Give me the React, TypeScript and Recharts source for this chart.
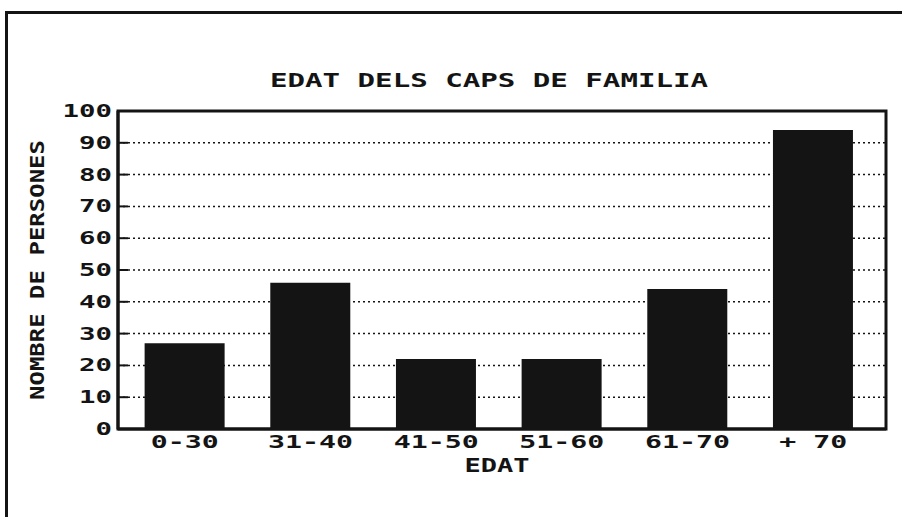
import { Bar, BarChart, CartesianGrid, XAxis, YAxis } from "recharts";

const categories = ["0-30", "31-40", "41-50", "51-60", "61-70", "+ 70"];
const persones = [27, 46, 22, 22, 44, 94];
const yTicks = [0, 10, 20, 30, 40, 50, 60, 70, 80, 90, 100];

const data = categories.map((edat, i) => ({ edat, persones: persones[i] }));

const FONT = "'DejaVu Sans Mono', monospace";
const INK = "#141414";

const YTick = ({ x, y, payload }: any) => {
	const label = String(payload.value);
	return (
		<g>
			<line x1={x + 6} x2={x + 16} y1={y} y2={y} stroke={INK} strokeWidth={2} />
			<text
				x={x}
				y={y}
				dy={6}
				textAnchor="end"
				fill={INK}
				fontFamily={FONT}
				fontWeight="bold"
				fontSize={18}
				textLength={label.length * 16.5}
				lengthAdjust="spacingAndGlyphs"
			>
				{label}
			</text>
		</g>
	);
};

const XTick = ({ x, y, payload }: any) => {
	const label = String(payload.value);
	return (
		<text
			x={x}
			y={y}
			dy={15}
			textAnchor="middle"
			fill={INK}
			fontFamily={FONT}
			fontWeight="bold"
			fontSize={18}
			textLength={label.length * 17}
			lengthAdjust="spacingAndGlyphs"
		>
			{label}
		</text>
	);
};

export default function App() {
	return (
		<div
			style={{
				position: "absolute",
				top: 0,
				left: 0,
				width: 902,
				height: 517,
				background: "#fff",
				overflow: "hidden",
			}}
		>
			<BarChart
				width={902}
				height={517}
				data={data}
				margin={{ top: 111, right: 16, left: 18, bottom: 58 }}
				barCategoryGap="18%"
				style={{ position: "absolute", top: 0, left: 0 }}
			>
				<CartesianGrid
					horizontal
					vertical={false}
					stroke={INK}
					strokeWidth={1.5}
					strokeDasharray="2 3"
				/>
				<XAxis
					dataKey="edat"
					height={30}
					padding={{ left: 4, right: 10 }}
					tickLine={false}
					tickSize={0}
					tickMargin={4}
					axisLine={{ stroke: INK, strokeWidth: 3 }}
					tick={<XTick />}
					interval={0}
				/>
				<YAxis
					width={100}
					domain={[0, 100]}
					ticks={yTicks}
					interval={0}
					tickLine={false}
					tickSize={0}
					tickMargin={6}
					axisLine={{ stroke: INK, strokeWidth: 3 }}
					tick={<YTick />}
				/>
				<Bar dataKey="persones" fill={INK} isAnimationActive={false} />
			</BarChart>
			<svg
				width={902}
				height={517}
				style={{ position: "absolute", top: 0, left: 0, pointerEvents: "none" }}
			>
				<path d="M6.5 560 V12.5 H902" fill="none" stroke={INK} strokeWidth={3} />
				<rect x={118} y={111} width={768} height={318} fill="none" stroke={INK} strokeWidth={3} />
				<text
					x={489}
					y={87}
					textAnchor="middle"
					fill={INK}
					fontFamily={FONT}
					fontWeight="bold"
					fontSize={20}
					textLength={438}
					lengthAdjust="spacingAndGlyphs"
				>
					EDAT DELS CAPS DE FAMILIA
				</text>
				<text
					transform="translate(44 270) rotate(-90)"
					textAnchor="middle"
					fill={INK}
					fontFamily={FONT}
					fontWeight="bold"
					fontSize={20}
					textLength={260}
					lengthAdjust="spacingAndGlyphs"
				>
					NOMBRE DE PERSONES
				</text>
				<text
					x={497}
					y={472}
					textAnchor="middle"
					fill={INK}
					fontFamily={FONT}
					fontWeight="bold"
					fontSize={19}
					textLength={65}
					lengthAdjust="spacingAndGlyphs"
				>
					EDAT
				</text>
			</svg>
		</div>
	);
}
